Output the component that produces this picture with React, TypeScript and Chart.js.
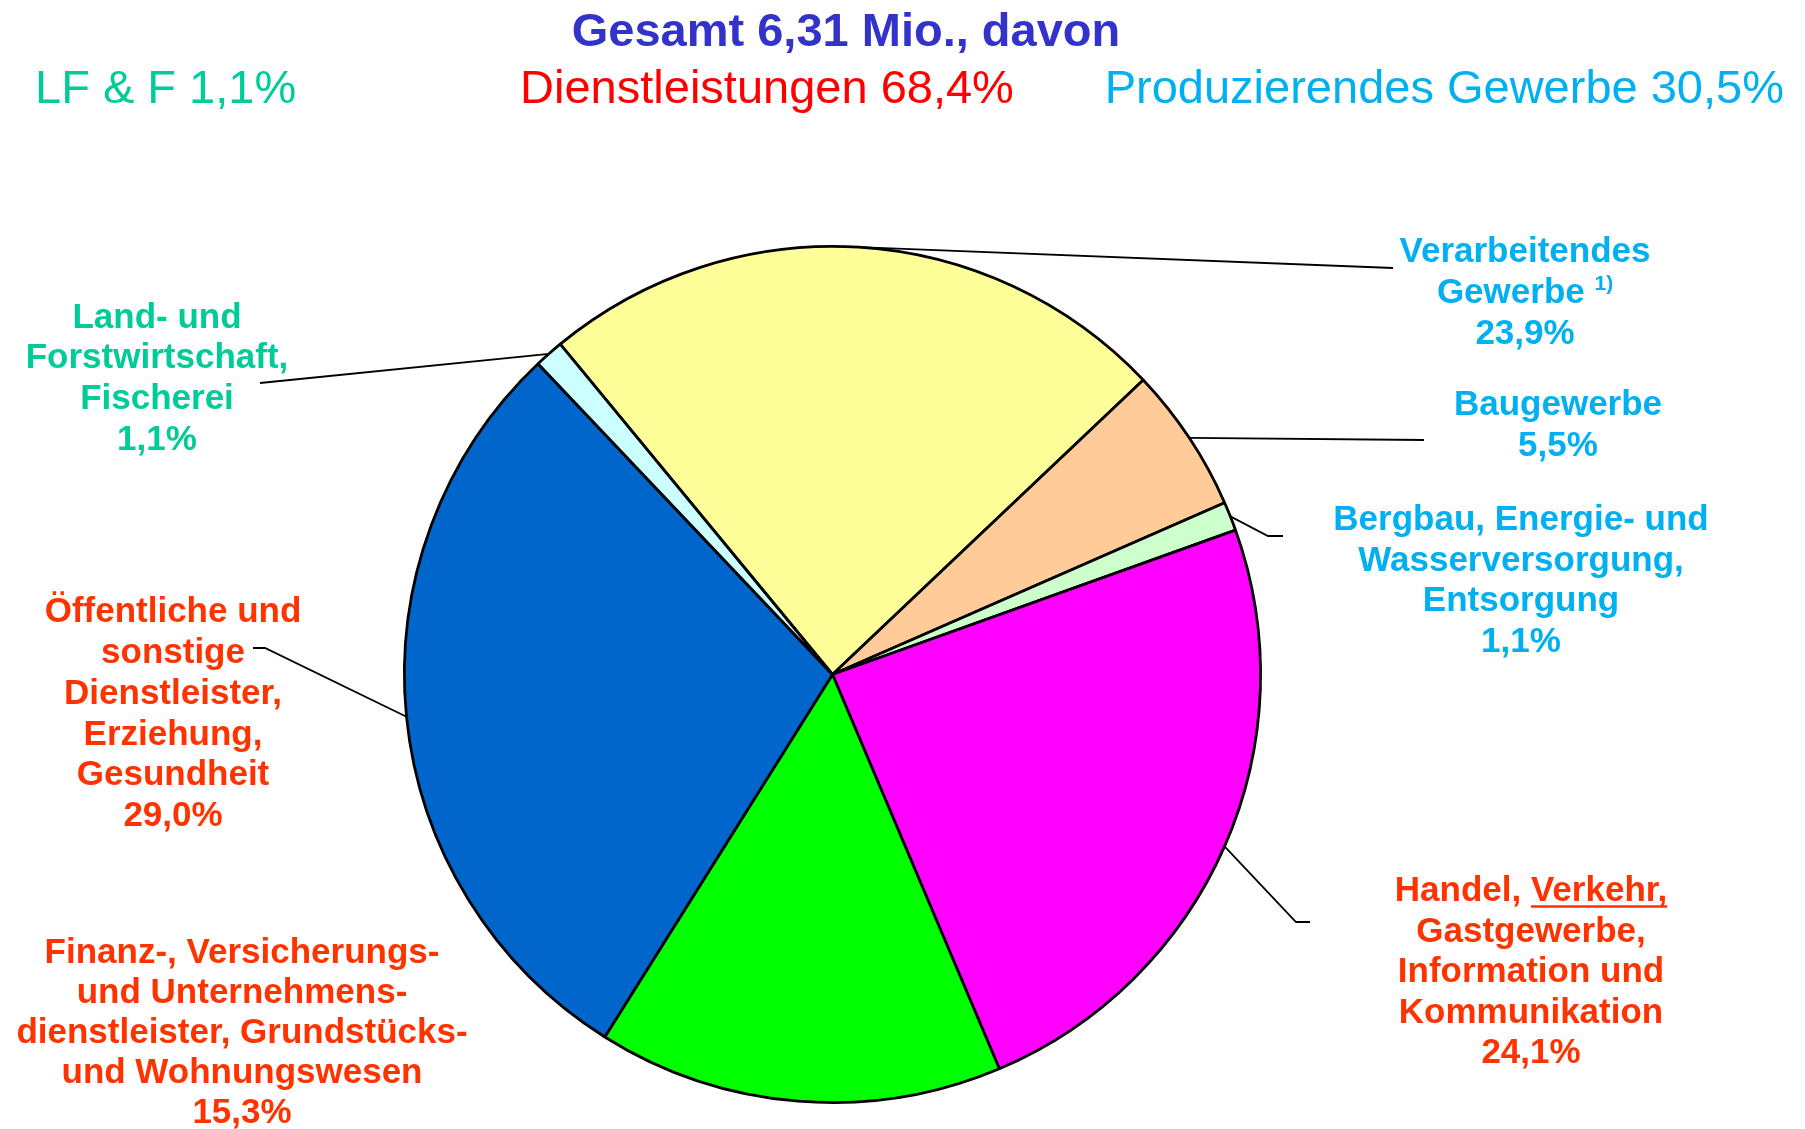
import React, { useEffect, useRef } from "react";
import { Chart, registerables } from "chart.js";

Chart.register(...registerables);

// ---- data ----
const categories = [
  "Verarbeitendes Gewerbe",
  "Baugewerbe",
  "Bergbau, Energie- und Wasserversorgung, Entsorgung",
  "Handel, Verkehr, Gastgewerbe, Information und Kommunikation",
  "Finanz-, Versicherungs- und Unternehmensdienstleister, Grundstücks- und Wohnungswesen",
  "Öffentliche und sonstige Dienstleister, Erziehung, Gesundheit",
  "Land- und Forstwirtschaft, Fischerei",
];
const shares = [23.9, 5.5, 1.1, 24.1, 15.3, 29.0, 1.1];
const sliceColors = ["#FFFF99", "#FFCC99", "#CCFFCC", "#FF00FF", "#00FF00", "#0066CC", "#CCFFFF"];

const labelLines = [
  ["Verarbeitendes", "Gewerbe"],
  ["Baugewerbe"],
  ["Bergbau, Energie- und", "Wasserversorgung,", "Entsorgung"],
  ["Handel, Verkehr,", "Gastgewerbe,", "Information und", "Kommunikation"],
  ["Finanz-, Versicherungs-", "und Unternehmens-", "dienstleister, Grundstücks-", "und Wohnungswesen"],
  ["Öffentliche und", "sonstige", "Dienstleister,", "Erziehung,", "Gesundheit"],
  ["Land- und", "Forstwirtschaft,", "Fischerei"],
];
const labelColors = ["#00B0F0", "#00B0F0", "#00B0F0", "#FF3300", "#FF3300", "#FF3300", "#00CC99"];

const titleText = "Gesamt 6,31 Mio., davon";
const groupTexts = ["LF & F 1,1%", "Dienstleistungen 68,4%", "Produzierendes Gewerbe 30,5%"];
const groupColors = ["#00CC99", "#FF0000", "#00B0F0"];

// ---- layout ----
const W = 1805;
const H = 1129;
const FONT = '"Liberation Sans", Arial, Helvetica, sans-serif';
const labelLayout = [
  { cx: 1525, y0: 252.5, lh: 41, leader: [[1393, 268]] },
  { cx: 1558, y0: 405.5, lh: 41, leader: [[1424, 440]] },
  { cx: 1521, y0: 520.5, lh: 40.5, leader: [[1268, 536], [1283, 536]] },
  { cx: 1531, y0: 891.5, lh: 40.5, leader: [[1296, 922], [1310, 922]] },
  { cx: 242, y0: 953, lh: 40, leader: null },
  { cx: 173, y0: 612.5, lh: 40.8, leader: [[265, 648], [253, 648]] },
  { cx: 157, y0: 318, lh: 40.7, leader: [[260, 383]] },
];

const fmtPct = (v: number) => v.toFixed(1).replace(".", ",") + "%";

const textPlugin = {
  id: "texts",
  afterDraw(chart: any) {
    const ctx = chart.ctx as CanvasRenderingContext2D;
    const meta = chart.getDatasetMeta(0);
    ctx.save();
    // leader lines
    ctx.strokeStyle = "#000";
    ctx.lineWidth = 1.8;
    meta.data.forEach((arc: any, i: number) => {
      const lay = labelLayout[i];
      if (!lay.leader) return;
      const p = arc.getProps(["x", "y", "startAngle", "endAngle", "outerRadius"], true);
      const a = (p.startAngle + p.endAngle) / 2;
      ctx.beginPath();
      ctx.moveTo(p.x + Math.cos(a) * p.outerRadius, p.y + Math.sin(a) * p.outerRadius);
      lay.leader.forEach((pt: number[]) => ctx.lineTo(pt[0], pt[1]));
      ctx.stroke();
    });

    // title
    ctx.textBaseline = "middle";
    ctx.textAlign = "center";
    ctx.font = `bold 47px ${FONT}`;
    ctx.fillStyle = "#3333CC";
    ctx.fillText(titleText, 846, 33);

    ctx.font = `47px ${FONT}`;
    ctx.fillStyle = groupColors[0];
    ctx.textAlign = "left";
    ctx.fillText(groupTexts[0], 35, 90);
    ctx.fillStyle = groupColors[1];
    ctx.textAlign = "center";
    ctx.fillText(groupTexts[1], 767, 90);
    ctx.fillStyle = groupColors[2];
    ctx.textAlign = "right";
    ctx.fillText(groupTexts[2], 1784, 90);

    // slice labels
    labelLines.forEach((lines, i) => {
      const lay = labelLayout[i];
      const all = [...lines, fmtPct(shares[i])];
      ctx.fillStyle = labelColors[i];
      ctx.strokeStyle = labelColors[i];
      all.forEach((txt, j) => {
        const y = lay.y0 + j * lay.lh;
        ctx.font = `bold 35px ${FONT}`;
        if (i === 0 && j === 1) {
          const w1 = ctx.measureText(txt + " ").width;
          ctx.font = `bold 21px ${FONT}`;
          const w2 = ctx.measureText("1)").width;
          const left = lay.cx - (w1 + w2) / 2;
          ctx.textAlign = "left";
          ctx.font = `bold 35px ${FONT}`;
          ctx.fillText(txt, left, y);
          ctx.font = `bold 21px ${FONT}`;
          ctx.fillText("1)", left + w1, y - 9);
        } else if (i === 3 && j === 0) {
          const part1 = "Handel, ";
          const part2 = "Verkehr,";
          const w1 = ctx.measureText(part1).width;
          const w2 = ctx.measureText(part2).width;
          const left = lay.cx - (w1 + w2) / 2;
          ctx.textAlign = "left";
          ctx.fillText(part1, left, y);
          ctx.fillText(part2, left + w1, y);
          ctx.lineWidth = 2.5;
          ctx.beginPath();
          ctx.moveTo(left + w1, y + 15);
          ctx.lineTo(left + w1 + w2, y + 15);
          ctx.stroke();
        } else {
          ctx.textAlign = "center";
          ctx.fillText(txt, lay.cx, y);
        }
      });
    });
    ctx.restore();
  },
};

export default function App() {
  const ref = useRef<HTMLCanvasElement>(null);
  useEffect(() => {
    if (!ref.current) return;
    const chart = new Chart(ref.current, {
      type: "pie",
      data: {
        labels: categories,
        datasets: [
          {
            data: shares,
            backgroundColor: sliceColors,
            borderColor: "#000000",
            borderWidth: 2.8,
            borderAlign: "center",
          } as any,
        ],
      },
      options: {
        responsive: true,
        maintainAspectRatio: false,
        animation: false,
        rotation: -39.5,
        layout: { padding: { left: 403, right: 543, top: 244, bottom: 24 } },
        plugins: {
          legend: { display: false },
          tooltip: { enabled: false },
          title: { display: false },
        },
      } as any,
      plugins: [textPlugin],
    });
    return () => chart.destroy();
  }, []);
  return (
    <div style={{ position: "fixed", left: 0, top: 0, width: W, height: H, background: "#fff" }}>
      <canvas ref={ref} />
    </div>
  );
}
